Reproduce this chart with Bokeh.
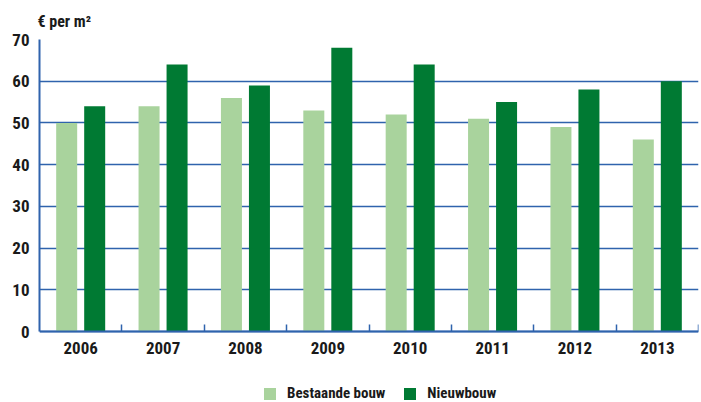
from bokeh.plotting import figure
from bokeh.models import (ColumnDataSource, FixedTicker, Legend, LegendItem, Range1d)
from bokeh.embed import file_html
from bokeh.resources import INLINE

# Price per square metre, by year
years = ["2006", "2007", "2008", "2009", "2010", "2011", "2012", "2013"]
bestaande_bouw = [50, 54, 56, 53, 52, 51, 49, 46]
nieuwbouw = [54, 64, 59, 68, 64, 55, 58, 60]
y_ticks = [0, 10, 20, 30, 40, 50, 60, 70]

LIGHT = "#a9d39d"
DARK = "#007a33"
BLUE = "#2f63ad"
FONT = "'Roboto Condensed', Roboto, sans-serif"
TXT = "#1a1a1a"

# value axis spans 292 px; the frame continues 71 px lower to hold
# the year labels and the legend
VALUE_PX = 292
FRAME_PX = 363
y_top = y_ticks[-1]
y_start = y_top - y_top * FRAME_PX / VALUE_PX

centers = [i + 0.5 for i in range(len(years))]
src = ColumnDataSource(dict(
    x_b=[c - 0.17 for c in centers],
    x_n=[c + 0.17 for c in centers],
    bestaande=bestaande_bouw,
    nieuw=nieuwbouw,
))

p = figure(frame_width=659, frame_height=FRAME_PX, output_backend="svg",
           toolbar_location=None,
           x_range=Range1d(0, len(years)), y_range=Range1d(y_start, y_top),
           min_border_left=39, min_border_right=3, min_border_top=39,
           min_border_bottom=0,
           title="€ per m²", title_location="above")
p.outline_line_color = None
p.background_fill_color = "white"

p.title.align = "left"
p.title.offset = -2
p.title.standoff = 17
p.title.text_font = FONT
p.title.text_font_style = "bold"
p.title.text_font_size = "16px"
p.title.text_color = TXT

r_b = p.vbar(x="x_b", top="bestaande", width=0.255, source=src,
             fill_color=LIGHT, line_color=None)
r_n = p.vbar(x="x_n", top="nieuw", width=0.255, source=src,
             fill_color=DARK, line_color=None)

# x axis at value 0: year labels at category centres, small ticks at boundaries
xa = p.xaxis[0]
xa.fixed_location = 0
xa.bounds = (0, len(years))
xa.ticker = FixedTicker(ticks=centers, minor_ticks=list(range(1, len(years) + 1)))
xa.major_label_overrides = {c: y for c, y in zip(centers, years)}
xa.major_tick_in = 0
xa.major_tick_out = 0
xa.minor_tick_in = 7
xa.minor_tick_out = 0
xa.minor_tick_line_color = BLUE
xa.minor_tick_line_width = 1.5
xa.axis_line_color = BLUE
xa.axis_line_width = 2
xa.major_label_standoff = 10
xa.major_label_text_font = FONT
xa.major_label_text_font_style = "bold"
xa.major_label_text_font_size = "17px"
xa.major_label_text_color = TXT

ya = p.yaxis[0]
ya.bounds = (0, y_top)
ya.ticker = FixedTicker(ticks=y_ticks)
ya.major_tick_in = 0
ya.major_tick_out = 0
ya.minor_tick_line_color = None
ya.axis_line_color = BLUE
ya.axis_line_width = 2
ya.major_label_standoff = 10
ya.major_label_text_font = FONT
ya.major_label_text_font_style = "bold"
ya.major_label_text_font_size = "17px"
ya.major_label_text_color = TXT

p.xgrid.grid_line_color = None
p.ygrid.ticker = FixedTicker(ticks=y_ticks)
p.ygrid.grid_line_color = BLUE
p.ygrid.grid_line_width = 1.5

legend = Legend(items=[LegendItem(label="Bestaande bouw", renderers=[r_b]),
                       LegendItem(label="Nieuwbouw", renderers=[r_n])],
                orientation="horizontal", location=(223, 0),
                glyph_width=15, glyph_height=15, label_standoff=10, spacing=17,
                padding=0, margin=0, border_line_color=None,
                background_fill_alpha=0,
                label_text_font=FONT, label_text_font_style="bold",
                label_text_font_size="15px", label_text_color=TXT)
p.add_layout(legend, "center")

open("out.html", "w").write(file_html(p, INLINE))
